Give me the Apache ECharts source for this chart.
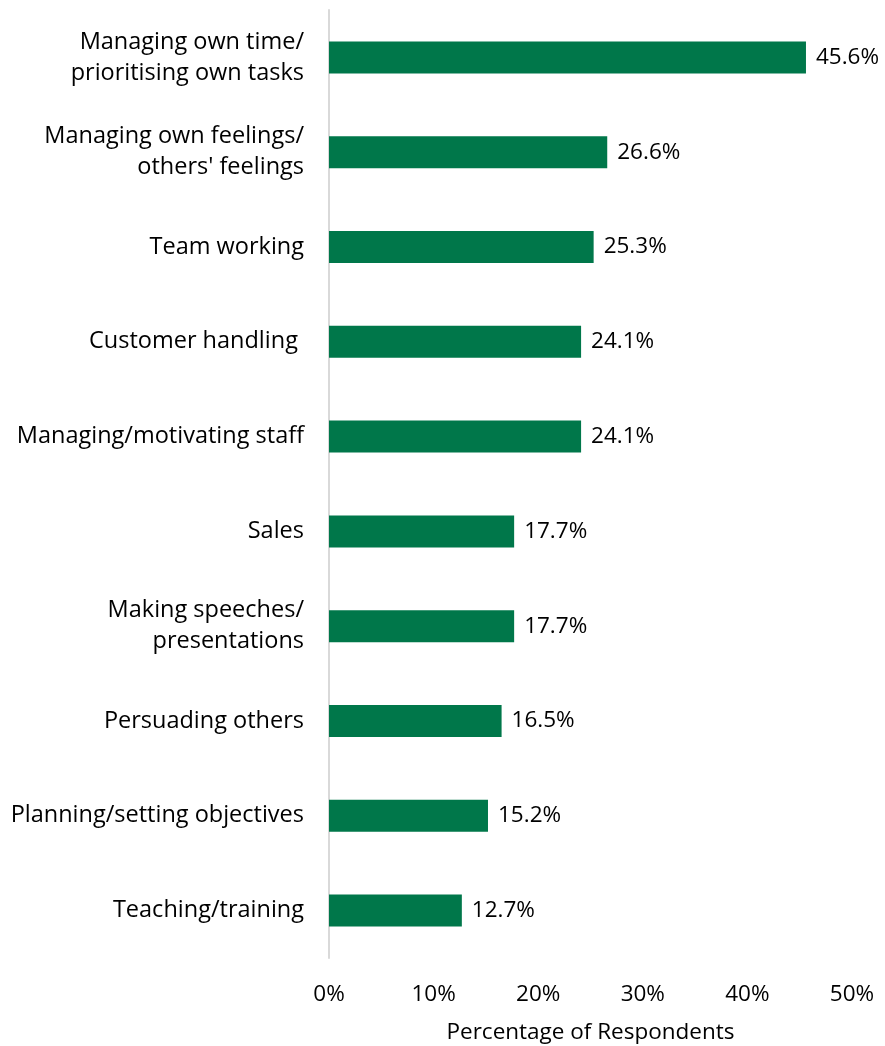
<!DOCTYPE html>
<html><head><meta charset="utf-8">
<script src="https://cdn.jsdelivr.net/npm/echarts@6/dist/echarts.min.js"></script>
<style>html,body{margin:0;padding:0;background:#fff}#c{width:885px;height:1046px}</style>
</head><body><div id="c"></div>
<script>
const categories = [
  "Managing own time/\nprioritising own tasks",
  "Managing own feelings/\nothers' feelings",
  "Team working",
  "Customer handling ",
  "Managing/motivating staff",
  "Sales",
  "Making speeches/\npresentations",
  "Persuading others",
  "Planning/setting objectives",
  "Teaching/training"
];
const values = [45.6, 26.6, 25.3, 24.1, 24.1, 17.7, 17.7, 16.5, 15.2, 12.7];
const xTicks = [0, 10, 20, 30, 40, 50];
const axisTitle = "Percentage of Respondents";

const FONT = "'Open Sans', sans-serif";
const chart = echarts.init(document.getElementById('c'));
chart.setOption({
  animation: false,
  grid: {left: 329, right: 33, top: 10, bottom: 88, containLabel: false, outerBoundsMode: 'none'},
  xAxis: {
    type: 'value', min: xTicks[0], max: xTicks[xTicks.length-1], interval: 10,
    axisLine: {show: false}, axisTick: {show: false}, splitLine: {show: false},
    axisLabel: {formatter: v => v + '%', color: '#000', fontSize: 22.5, fontFamily: FONT, margin: 25},
    name: axisTitle, nameLocation: 'middle', nameGap: 63,
    nameTextStyle: {color: '#000', fontSize: 22.5, fontFamily: FONT}
  },
  yAxis: {
    type: 'category', data: categories, inverse: true,
    axisLine: {show: true, lineStyle: {color: '#d9d9d9', width: 2}},
    axisTick: {show: false},
    axisLabel: {color: '#000', fontSize: 23.5, fontFamily: FONT, margin: 25, lineHeight: 31, align: 'right', padding: [3, 0, 0, 0]}
  },
  series: [{
    type: 'bar', data: values, barWidth: 32,
    itemStyle: {color: '#00774A'},
    label: {show: true, position: 'right', distance: 10, formatter: p => p.value.toFixed(1) + '%',
      color: '#000', fontSize: 22.5, fontFamily: FONT, padding: [3, 0, 0, 0]}
  }]
});
</script></body></html>
